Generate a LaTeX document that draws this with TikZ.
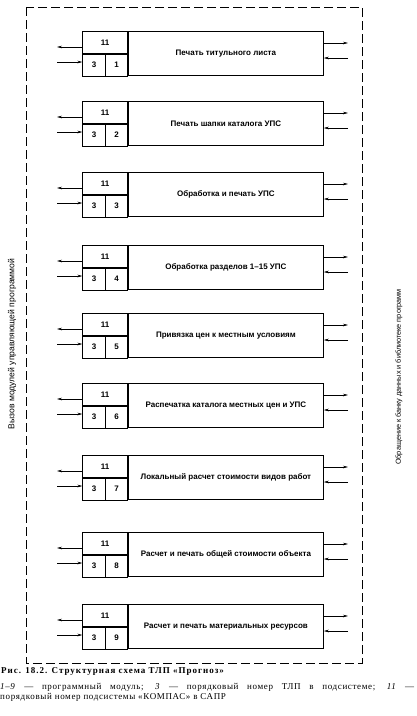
\documentclass[tikz,border=0pt]{standalone}
\usepackage{fontspec}
\setmainfont{Liberation Serif}
\setsansfont{Liberation Sans}
\usetikzlibrary{arrows.meta}

\begin{document}
\begin{tikzpicture}[x=1pt,y=-1pt,
  box/.style={draw,line width=0.8pt,minimum width=195pt,minimum height=44pt,
    inner sep=0pt,font=\sffamily\bfseries\fontsize{8}{9}\selectfont},
  cell/.style={draw,line width=0.6pt,minimum height=22pt,inner sep=0pt,
    font=\sffamily\bfseries\fontsize{8}{9}\selectfont},
  side/.style={rotate=90,font=\sffamily\fontsize{7.3}{8}\selectfont},
  a/.style={-{Stealth[length=5pt,width=2.6pt]},line width=0.6pt}
]
  \useasboundingbox (0,0) rectangle (416,716);
  \draw[dash pattern=on 9pt off 4pt,line width=0.7pt] (26,7) rectangle (362,663);
  \foreach \i/\y/\txt in {1/31/{Печать титульного листа},
      2/101/{Печать шапки каталога УПС},
      3/172/{Обработка и печать УПС},
      4/245/{Обработка разделов 1--15 УПС},
      5/313/{Привязка цен к местным условиям},
      6/383/{Распечатка каталога местных цен и УПС},
      7/455/{Локальный расчет стоимости видов работ},
      8/532/{Расчет и печать общей стоимости объекта},
      9/604/{Расчет и печать материальных ресурсов}}{
    \node[box,anchor=north west] (m\i) at (128,\y) {\txt};
    \node[cell,anchor=north east,minimum width=45pt] (t\i) at (m\i.north west) {11};
    \node[cell,anchor=north west,minimum width=23pt] (p\i) at (t\i.south west) {3};
    \node[cell,anchor=north east,minimum width=22pt] (q\i) at (t\i.south east) {\i};
    \coordinate (la\i) at (57,\y+16);
    \coordinate (lb\i) at (57,\y+31);
    \coordinate (ra\i) at (348,\y+12);
    \coordinate (rb\i) at (348,\y+27);
    \draw[a] (la\i -| t\i.west) -- (la\i);
    \draw[a] (lb\i) -- (lb\i -| p\i.west);
    \draw[a] (ra\i -| m\i.east) -- (ra\i);
    \draw[a] (rb\i) -- (rb\i -| m\i.east);
  }
  \node[side,font=\sffamily\fontsize{8.6}{9}\selectfont] (call) at (12,344)
    {Вызов модулей управляющей программой};
  \node[side] (bank) at (399,377) {Обращение к банку данных и библиотеке программ};
  % подпись
  \node[anchor=north west,inner sep=0pt,
    font=\bfseries\fontsize{9}{11}\selectfont\addfontfeature{LetterSpace=11}]
    (cap) at (1,667) {Рис. 18.2. Структурная схема ТЛП «Прогноз»};
  \node[anchor=north west,inner sep=0pt,text width=414pt,align=justify,
    font=\fontsize{9}{10.5}\selectfont\addfontfeature{LetterSpace=7}] (legend) at (0,683)
    {\textit{1--9}~--- программный модуль; \textit{3}~--- порядковый номер ТЛП в подсистеме; \textit{11}~---\linebreak
     порядковый номер подсистемы «КОМПАС» в САПР};
\end{tikzpicture}
\end{document}
